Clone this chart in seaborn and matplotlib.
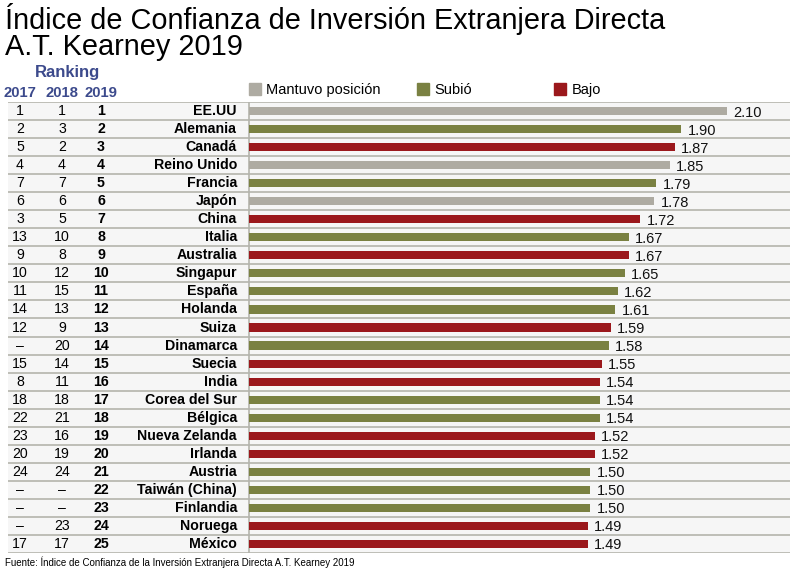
import numpy as np
import pandas as pd
import matplotlib
matplotlib.use('Agg')
import matplotlib.pyplot as plt
import matplotlib.transforms as mtransforms
from matplotlib.patches import Patch
import seaborn as sb

# data
paises = ['EE.UU', 'Alemania', 'Canadá', 'Reino Unido', 'Francia', 'Japón', 'China',
          'Italia', 'Australia', 'Singapur', 'España', 'Holanda', 'Suiza', 'Dinamarca',
          'Suecia', 'India', 'Corea del Sur', 'Bélgica', 'Nueva Zelanda', 'Irlanda',
          'Austria', 'Taiwán (China)', 'Finlandia', 'Noruega', 'México']
valores = [2.10, 1.90, 1.87, 1.85, 1.79, 1.78, 1.72, 1.67, 1.67, 1.65, 1.62, 1.61, 1.59,
           1.58, 1.55, 1.54, 1.54, 1.54, 1.52, 1.52, 1.50, 1.50, 1.50, 1.49, 1.49]
rank_2017 = ['1', '2', '5', '4', '7', '6', '3', '13', '9', '10', '11', '14', '12', '–',
             '15', '8', '18', '22', '23', '20', '24', '–', '–', '–', '17']
rank_2018 = ['1', '3', '2', '4', '7', '6', '5', '10', '8', '12', '15', '13', '9', '20',
             '14', '11', '18', '21', '16', '19', '24', '–', '–', '23', '17']
rank_2019 = [str(i) for i in range(1, 26)]
estado = ['Mantuvo posición', 'Subió', 'Bajo', 'Mantuvo posición', 'Subió',
          'Mantuvo posición', 'Bajo', 'Subió', 'Bajo', 'Subió', 'Subió', 'Subió', 'Bajo',
          'Subió', 'Bajo', 'Bajo', 'Subió', 'Subió', 'Bajo', 'Bajo', 'Subió', 'Subió',
          'Subió', 'Bajo', 'Bajo']
categorias = ['Mantuvo posición', 'Subió', 'Bajo']
colores = {'Mantuvo posición': '#aeaba2', 'Subió': '#7a8142', 'Bajo': '#9b181c'}

df = pd.DataFrame({'pais': paises, 'valor': valores, 'estado': estado})

W, H = 790, 570
fig = plt.figure(figsize=(W / 100, H / 100), dpi=100)
plt.rcParams['font.family'] = ['Liberation Sans', 'DejaVu Sans']

# table + bars share one axes, bars start at x = 249 px
ax = fig.add_axes([8 / W, (H - 553) / H, (W - 8) / W, (553 - 102) / H])
ax.set_facecolor('#f6f6f6')
sb.barplot(data=df, x='valor', y='pais', hue='estado', hue_order=categorias,
           palette=colores, dodge=False, width=0.45, legend=False, ax=ax,
           saturation=1)

px_per_unit = 227.6
ax.set_xlim(-(249 - 8) / px_per_unit, (W - 249) / px_per_unit)
ax.set_ylim(len(paises) - 0.5, -0.5)
for s in ax.spines.values():
    s.set_visible(False)
ax.set_xticks([])
ax.set_yticks([])
ax.set_xlabel('')
ax.set_ylabel('')

# row separators and the vertical axis line
for i in range(len(paises) + 1):
    ax.axhline(i - 0.5, color='#b4b4ac', lw=1.2, zorder=0.5)
ax.axvline(0, color='#b4b4ac', lw=1.2, zorder=0.5)

for cont in ax.containers:
    labels = ax.bar_label(cont, fmt='%.2f', padding=4.5, fontsize=10.5, color='#111111')
    for t in labels:
        t.set_va('center_baseline')

# ranking columns
tr = mtransforms.blended_transform_factory(fig.transFigure, ax.transData)
for i in range(len(paises)):
    ax.text(20 / W, i, rank_2017[i], transform=tr, ha='center', va='center', fontsize=10.2)
    ax.text(62 / W, i, rank_2018[i], transform=tr, ha='center', va='center', fontsize=10.2)
    ax.text(101 / W, i, rank_2019[i], transform=tr, ha='center', va='center',
            fontsize=10.2, fontweight='bold')
    ax.text(237 / W, i, paises[i], transform=tr, ha='right', va='center',
            fontsize=10.2, fontweight='bold')

azul = '#3c4a8c'
fig.text(67 / W, 1 - 73 / H, 'Ranking', ha='center', va='center', fontsize=12,
         fontweight='bold', color=azul)
for x, yr in zip([20, 62, 101], ['2017', '2018', '2019']):
    fig.text(x / W, 1 - 93 / H, yr, ha='center', va='center', fontsize=10.7,
             fontweight='bold', color=azul)

# legend, one entry per position
for x, cat in zip([249, 417, 554], categorias):
    leg = fig.legend(handles=[Patch(color=colores[cat], label=cat)],
                     loc='center left', bbox_to_anchor=(x / W, 1 - 90 / H),
                     frameon=False, fontsize=10.5, handlelength=0.85, handleheight=0.85,
                     handletextpad=0.35, borderpad=0, borderaxespad=0)

# title and source
fig.text(5 / W, 1 - 19 / H, 'Índice de Confianza de Inversión Extranjera Directa',
         ha='left', va='center', fontsize=20.8)
fig.text(5 / W, 1 - 47 / H, 'A.T. Kearney 2019', ha='left', va='center', fontsize=20.8)
fig.text(5 / W, 1 - 562 / H,
         'Fuente: Índice de Confianza de la Inversión Extranjera Directa A.T. Kearney 2019',
         ha='left', va='center', fontsize=7)

fig.savefig('out.png', dpi=100)
